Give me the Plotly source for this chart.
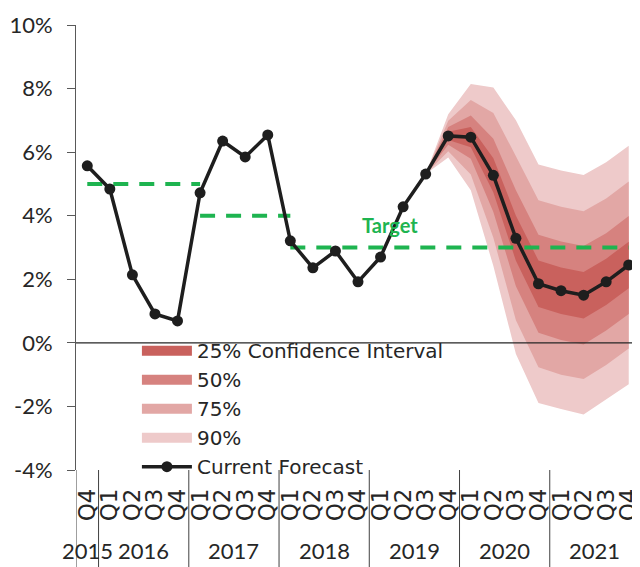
import plotly.graph_objects as go

# ---------------- data ----------------
quarters = ['Q4',
            'Q1', 'Q2', 'Q3', 'Q4',
            'Q1', 'Q2', 'Q3', 'Q4',
            'Q1', 'Q2', 'Q3', 'Q4',
            'Q1', 'Q2', 'Q3', 'Q4',
            'Q1', 'Q2', 'Q3', 'Q4',
            'Q1', 'Q2', 'Q3', 'Q4']
quarter_years = ['2015',
                 '2016', '2016', '2016', '2016',
                 '2017', '2017', '2017', '2017',
                 '2018', '2018', '2018', '2018',
                 '2019', '2019', '2019', '2019',
                 '2020', '2020', '2020', '2020',
                 '2021', '2021', '2021', '2021']

forecast = [5.57, 4.84, 2.14, 0.91, 0.69, 4.72, 6.35, 5.85, 6.54, 3.21,
            2.36, 2.89, 1.92, 2.70, 4.28, 5.31, 6.51, 6.47, 5.27, 3.29,
            1.86, 1.64, 1.50, 1.92, 2.45]

# target segments (start index, end index, value)
target_start = [0, 5, 9]
target_end = [5, 9, 24]
target_value = [5, 4, 3]

# fan chart bands, from 2019 Q3 (index 15) to 2021 Q4
fan_start = 15
band_90_upper = [5.31, 7.19, 8.14, 8.03, 7.00, 5.61, 5.42, 5.28, 5.68, 6.20]
band_90_lower = [5.31, 5.83, 4.80, 2.42, -0.35, -1.89, -2.08, -2.25, -1.78, -1.30]
band_75_upper = [5.31, 6.99, 7.64, 7.23, 5.87, 4.49, 4.28, 4.14, 4.54, 5.08]
band_75_lower = [5.31, 6.03, 5.30, 3.31, 0.71, -0.77, -1.00, -1.14, -0.70, -0.18]
band_50_upper = [5.31, 6.79, 7.15, 6.42, 4.80, 3.40, 3.19, 3.05, 3.45, 3.99]
band_50_lower = [5.31, 6.23, 5.79, 4.12, 1.78, 0.32, 0.09, -0.05, 0.39, 0.91]
band_25_upper = [5.31, 6.64, 6.79, 5.81, 4.00, 2.59, 2.37, 2.23, 2.65, 3.18]
band_25_lower = [5.31, 6.38, 6.15, 4.73, 2.58, 1.13, 0.91, 0.77, 1.19, 1.72]

y_tickvals = [-4, -2, 0, 2, 4, 6, 8, 10]
y_ticktext = ['-4%', '-2%', '0%', '2%', '4%', '6%', '8%', '10%']

# ---------------- figure ----------------
FONT = 'Lato, sans-serif'
WIDE = 'DejaVu Sans, sans-serif'
TEXT = '#262626'
GREEN = 'rgb(30,180,80)'
x_idx = list(range(len(quarters)))
fan_x = x_idx[fan_start:]

fig = go.Figure()

bands = [
    ('90%', band_90_upper, band_90_lower, 'rgb(238,202,202)', 4),
    ('75%', band_75_upper, band_75_lower, 'rgb(226,167,165)', 3),
    ('50%', band_50_upper, band_50_lower, 'rgb(214,130,127)', 2),
    ('25% Confidence Interval', band_25_upper, band_25_lower, 'rgb(201,97,93)', 1),
]
for name, up, lo, col, rank in bands:
    fig.add_trace(go.Scatter(
        x=fan_x + fan_x[::-1], y=up + lo[::-1],
        mode='lines', fill='toself', fillcolor=col,
        line=dict(width=0, color=col), name=name, legendgroup=name,
        showlegend=False, hoverinfo='skip'))
    # legend entry (thick swatch) for the band
    fig.add_trace(go.Scatter(
        x=[None], y=[None], mode='lines', name=name, legendgroup=name,
        legendrank=rank, line=dict(width=13, color=col)))

for s, e, v in zip(target_start, target_end, target_value):
    fig.add_trace(go.Scatter(
        x=[s, e], y=[v, v], mode='lines', showlegend=False,
        line=dict(color=GREEN, width=4, dash='15px,11px')))

fig.add_trace(go.Scatter(
    x=x_idx, y=forecast, mode='lines+markers', name='Current Forecast',
    legendrank=5,
    line=dict(color='#1e1e1e', width=3.5),
    marker=dict(color='#1e1e1e', size=11)))

# zero line above the fan
fig.add_shape(type='line', xref='paper', x0=0, x1=1, yref='y', y0=0, y1=0,
              line=dict(color='#262626', width=1.3), layer='above')

# year groups: labels and dividers
groups = []
for i, yr in enumerate(quarter_years):
    if i == 0 or yr != quarter_years[i - 1]:
        groups.append([yr, i, i])
    else:
        groups[-1][2] = i
bounds = [-0.5] + [g[2] + 0.5 for g in groups]
for b in bounds:
    fig.add_shape(type='line', xref='x', x0=b, x1=b, yref='paper', y0=0, y1=-0.22,
                  line=dict(color='#404040', width=1))
for yr, a, b in groups:
    fig.add_annotation(x=(a + b) / 2, y=-0.182, xref='x', yref='paper',
                       text=yr, showarrow=False, yanchor='middle',
                       font=dict(family=FONT, size=22, color=TEXT))

fig.add_annotation(x=13.4, y=3.72, xref='x', yref='y', text='<b>Target</b>',
                   showarrow=False, font=dict(family=FONT, size=20, color=GREEN))

fig.update_layout(
    width=632, height=559,
    margin=dict(l=68, r=0, t=17, b=97, autoexpand=False),
    paper_bgcolor='white', plot_bgcolor='white',
    font=dict(family=FONT, color=TEXT),
    showlegend=True,
    legend=dict(x=0.108, y=0.312, xanchor='left', yanchor='top',
                bgcolor='rgba(0,0,0,0)', itemwidth=50,
                font=dict(family=WIDE, size=20, color=TEXT),
                tracegroupgap=0),
    xaxis=dict(range=[-0.5, 24.5], tickmode='array', tickvals=x_idx,
               ticktext=quarters, tickangle=-90, showline=False,
               showgrid=False, zeroline=False, ticks='',
               ticklabelstandoff=13, ticklabeloverflow='allow',
               tickfont=dict(family=WIDE, size=23, color=TEXT)),
    yaxis=dict(range=[-4, 10], tickmode='array', tickvals=y_tickvals,
               ticktext=y_ticktext, showline=True, linecolor='#595959',
               linewidth=1, ticks='outside', ticklen=8, tickcolor='#595959',
               showgrid=False, zeroline=False, ticklabelstandoff=10,
               tickfont=dict(family=FONT, size=22, color=TEXT)),
)

fig.write_html('out.html')
